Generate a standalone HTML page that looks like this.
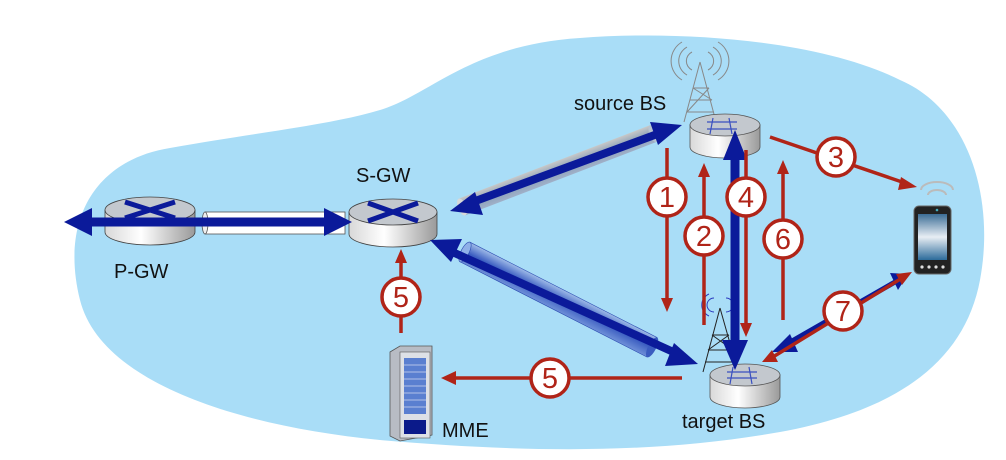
<!DOCTYPE html>
<html><head><meta charset="utf-8"><style>
html,body{margin:0;padding:0;background:#fff;}
svg{display:block;}
text{font-family:"Liberation Sans",sans-serif;}
</style></head><body>
<svg width="1006" height="460" viewBox="0 0 1006 460" xmlns="http://www.w3.org/2000/svg">
<defs>
<linearGradient id="rb" x1="0" x2="1"><stop offset="0" stop-color="#d8d8d8"/><stop offset="0.4" stop-color="#ffffff"/><stop offset="1" stop-color="#9a9a9a"/></linearGradient>
<linearGradient id="tb" x1="0" x2="0" y1="0" y2="1"><stop offset="0" stop-color="#9fbbe8"/><stop offset="0.5" stop-color="#3a5cc0"/><stop offset="1" stop-color="#6f90d8"/></linearGradient>
<linearGradient id="tg" x1="0" x2="0" y1="0" y2="1"><stop offset="0" stop-color="#c8c8c8"/><stop offset="0.5" stop-color="#8aa0b8"/><stop offset="1" stop-color="#a0b0c8"/></linearGradient>
<linearGradient id="ph" x1="0" x2="0" y1="0" y2="1"><stop offset="0" stop-color="#3c6d96"/><stop offset="0.5" stop-color="#e8eef4"/><stop offset="1" stop-color="#2c6b9a"/></linearGradient>
</defs>
<path d="M80,300 C60,220 95,160 170,148 C260,132 330,125 380,110 C430,95 470,45 580,38 C680,30 820,40 900,80 C970,110 995,200 980,280 C965,360 900,410 780,432 C650,455 520,452 380,440 C230,425 100,380 80,300 Z" fill="#a9ddf7"/>

<!-- tubes -->
<g transform="translate(462,207) rotate(-21)"><rect x="0" y="-9" width="205" height="18" fill="url(#tg)"/><ellipse cx="205" cy="0" rx="4" ry="9" fill="#b8c4d0"/><ellipse cx="0" cy="0" rx="4" ry="9" fill="#d8d8d8"/></g>
<g transform="translate(465,252) rotate(27)"><rect x="0" y="-11" width="210" height="22" fill="url(#tb)" stroke="#2a4ab0" stroke-width="0.6"/><ellipse cx="0" cy="0" rx="4" ry="11" fill="#8fb0e8" stroke="#2a4ab0" stroke-width="0.6"/><ellipse cx="210" cy="0" rx="4" ry="11" fill="#3a5cc0"/></g>
<rect x="205" y="212" width="140" height="22" fill="#fff" stroke="#555" stroke-width="0.8"/>
<ellipse cx="205" cy="223" rx="3" ry="11" fill="#eee" stroke="#555" stroke-width="0.8"/>

<!-- routers P-GW and S-GW -->
<g>
<path d="M105,210 v22 a45,13 0 0 0 90,0 v-22 z" fill="url(#rb)" stroke="#444" stroke-width="0.8"/>
<ellipse cx="150" cy="210" rx="45" ry="13" fill="#c3c8ce" stroke="#444" stroke-width="0.8"/>
<path d="M125,202 L175,218 M175,202 L125,218" stroke="#0b1a9a" stroke-width="5"/>
<path d="M349,212 v22 a44,13 0 0 0 88,0 v-22 z" fill="url(#rb)" stroke="#444" stroke-width="0.8"/>
<ellipse cx="393" cy="212" rx="44" ry="13" fill="#c3c8ce" stroke="#444" stroke-width="0.8"/>
<path d="M368,203 L418,221 M418,203 L368,221" stroke="#0b1a9a" stroke-width="5"/>
</g>

<!-- source tower -->
<g stroke="#888" fill="none" stroke-width="1">
<path d="M700,62 L684,122 M700,62 L715,118 M690,100 L712,100 M693,88 L709,88 M687,112 L714,112 M693,88 L712,100 M687,112 L709,88"/>
<path d="M692,52 a10,10 0 0 0 0,18 M708,52 a10,10 0 0 1 0,18 M687,47 a16,16 0 0 0 0,28 M713,47 a16,16 0 0 1 0,28 M682,42 a22,22 0 0 0 0,38 M718,42 a22,22 0 0 1 0,38"/>
</g>
<path d="M690,125 v22 a35,11 0 0 0 70,0 v-22 z" fill="url(#rb)" stroke="#555" stroke-width="0.8"/>
<ellipse cx="725" cy="125" rx="35" ry="11" fill="#c3c8ce" stroke="#555" stroke-width="0.8"/>
<path d="M713,118 L710,134 M729,118 L732,134 M707,122 H737 M707,129 H737" stroke="#3a50c0" stroke-width="1.2" fill="none"/>

<!-- target tower -->
<g stroke="#222" fill="none" stroke-width="1">
<path d="M720,308 L703,372 M720,308 L737,368 M712,335 L729,335 M708,350 L733,350 M705,362 L735,362 M712,335 L733,350 M708,350 L729,335"/>
</g>
<g stroke="#2a3ac0" fill="none" stroke-width="1">
<path d="M714,298 a7,7 0 0 0 0,14 M726,298 a7,7 0 0 1 0,14 M709,294 a12,12 0 0 0 0,22 M731,294 a12,12 0 0 1 0,22"/>
</g>
<path d="M710,375 v22 a35,11 0 0 0 70,0 v-22 z" fill="url(#rb)" stroke="#555" stroke-width="0.8"/>
<ellipse cx="745" cy="375" rx="35" ry="11" fill="#c3c8ce" stroke="#555" stroke-width="0.8"/>
<path d="M733,367 L730,384 M749,367 L752,384 M727,372 H757 M727,378 H757" stroke="#3a50c0" stroke-width="1.2" fill="none"/>

<!-- phone -->
<path d="M921,190 a16,8 0 0 1 32,0" stroke="#bbb" stroke-width="2" fill="none"/>
<path d="M928,195 a9,5 0 0 1 18,0" stroke="#bbb" stroke-width="2" fill="none"/>
<rect x="914" y="206" width="37" height="68" rx="5" fill="#222" stroke="#666"/>
<rect x="918" y="214" width="29" height="46" fill="url(#ph)"/>
<g fill="#ddd"><circle cx="922" cy="267" r="1.6"/><circle cx="929" cy="267" r="1.6"/><circle cx="936" cy="267" r="1.6"/><circle cx="943" cy="267" r="1.6"/></g>
<circle cx="937" cy="210" r="1.3" fill="#4ab"/>

<!-- MME server -->
<path d="M390,352 L400,346 L432,346 L432,435 L400,441 L390,436 Z" fill="#b8bcc4" stroke="#555" stroke-width="0.8"/>
<rect x="400" y="352" width="30" height="86" fill="#dde0e6" stroke="#555" stroke-width="0.6"/>
<rect x="404" y="358" width="22" height="56" fill="#5a7fd0"/>
<g stroke="#cfd8f0" stroke-width="0.8"><path d="M404,365H426M404,372H426M404,379H426M404,386H426M404,393H426M404,400H426M404,407H426"/></g>
<rect x="404" y="420" width="22" height="14" fill="#0b1a8a"/>

<!-- blue arrows -->
<g fill="#0b1a9a">
<path d="M90,222 H335" stroke="#0b1a9a" stroke-width="9"/>
<polygon points="64,222 92,208 92,236"/><polygon points="352,222 324,208 324,236"/>
<path d="M470,203 L660,133" stroke="#0b1a9a" stroke-width="8"/>
<polygon points="450,211 475,192 483,215"/><polygon points="682,125 650,122 658,145"/>
<path d="M448,250 L680,355" stroke="#0b1a9a" stroke-width="8"/>
<polygon points="430,240 462,239 451,262"/><polygon points="698,364 674,343 665,366"/>
<path d="M735,152 V345" stroke="#0b1a9a" stroke-width="9"/>
<polygon points="735,130 723,160 747,160"/><polygon points="735,370 722,340 748,340"/>
<path d="M785,345 L895,282" stroke="#0b1a9a" stroke-width="5"/>
<polygon points="772,352 790,334 798,352"/><polygon points="908,274 890,273 898,290"/>
</g>

<!-- red arrows -->
<g stroke="#b02418" stroke-width="3.5" fill="none">
<path d="M667,148 V300"/><path d="M704,325 V175"/><path d="M746,150 V325"/><path d="M783,320 V172"/>
<path d="M770,137 L905,183"/><path d="M768,360 L902,278"/>
<path d="M682,378 H455"/><path d="M401,333 V262"/>
</g>
<g fill="#b02418">
<polygon points="667,312 661,298 673,298"/><polygon points="704,163 698,177 710,177"/>
<polygon points="746,337 740,323 752,323"/><polygon points="783,160 777,174 789,174"/>
<polygon points="917,187 901,177 898,190"/><polygon points="912,272 896,274 902,285"/>
<polygon points="762,362 772,350 778,362"/>
<polygon points="441,378 456,371 456,385"/><polygon points="401,249 395,263 407,263"/>
</g>

<!-- circles -->
<g fill="#fff" stroke="#b02418" stroke-width="3.5">
<circle cx="667" cy="197" r="19"/><circle cx="704" cy="236" r="19"/><circle cx="746" cy="197" r="19"/><circle cx="783" cy="239" r="19"/>
<circle cx="836" cy="157" r="19"/><circle cx="843" cy="311" r="19"/><circle cx="401" cy="297" r="19"/><circle cx="550" cy="378" r="19"/>
</g>
<g fill="#b02418" font-size="29" text-anchor="middle">
<text x="667" y="207">1</text><text x="704" y="246">2</text><text x="746" y="207">4</text><text x="783" y="249">6</text>
<text x="836" y="167">3</text><text x="843" y="321">7</text><text x="401" y="307">5</text><text x="550" y="388">5</text>
</g>

<!-- labels -->
<g fill="#111" font-size="20">
<text x="574" y="110">source BS</text>
<text x="356" y="182">S-GW</text>
<text x="114" y="278">P-GW</text>
<text x="442" y="437">MME</text>
<text x="682" y="428">target BS</text>
</g>
</svg>
</body></html>
